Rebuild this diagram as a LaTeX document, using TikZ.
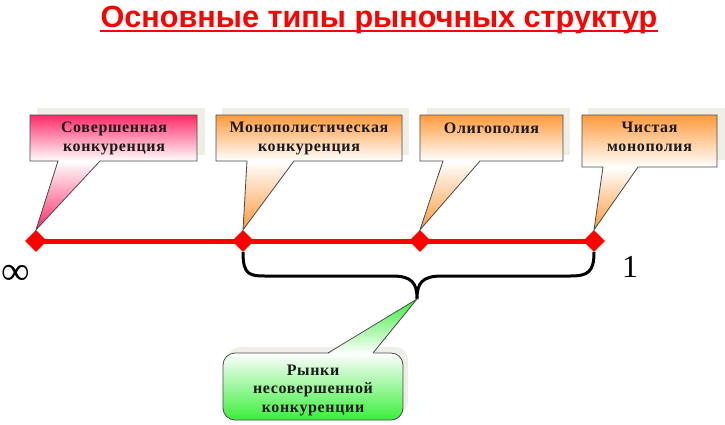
\documentclass[tikz,border=0pt]{standalone}
\usepackage{fontspec}
\setmainfont{Liberation Serif}
\newfontfamily\titlefont{Liberation Sans}
\newfontfamily\lblfont[LetterSpace=4]{Liberation Serif}
\usetikzlibrary{shapes.geometric,backgrounds}
\definecolor{pinkc}{HTML}{FF2A68}
\definecolor{orangec}{HTML}{FF9A3C}
\definecolor{greenc}{HTML}{3AEE3A}
\definecolor{shadowc}{HTML}{EFEFE8}
\definecolor{edgec}{HTML}{4A4A4A}
\definecolor{txtc}{HTML}{1A1A1A}
\begin{document}
\begin{tikzpicture}[x=1pt,y=-1pt,
  marker/.style={diamond,fill=red,minimum size=22pt,inner sep=0pt},
  outline/.style={draw=edgec,line width=0.8pt,line join=miter},
  shadowbox/.style={fill=shadowc},
  lbl/.style={font=\lblfont\fontsize{16}{18.5}\selectfont\bfseries,text=txtc,align=center,inner sep=0pt,anchor=base},
  bigsym/.style={font=\fontsize{32}{32}\selectfont,inner sep=0pt,anchor=base west}]
\useasboundingbox (0,0) rectangle (725,424);

% title
\node[font=\titlefont\fontsize{30.6}{30}\selectfont\bfseries,text=red,anchor=base,inner sep=0pt] (title) at (379,27) {Основные типы рыночных структур};
\draw[red,line width=2.5pt] ([yshift=-4pt]title.base west) -- ([yshift=-4pt]title.base east);

% markers
\node[marker] (d1) at (36,241) {};
\node[marker] (d2) at (243,241) {};
\node[marker] (d3) at (420,241) {};
\node[marker] (d4) at (594,241) {};
\begin{pgfonlayer}{background}
\draw[red,line width=5pt] (d1.center) -- (d4.center);
\end{pgfonlayer}

% callout 1
\fill[shadowbox] (37,108) rectangle (205,155);
\shade[top color=white,bottom color=pinkc] (58,161) -- (d1.north) -- (100,161) -- cycle;
\shade[top color=pinkc,bottom color=white] (30,115) rectangle (197,161);
\draw[outline] (58,161) -- (30,161) -- (30,115) -- (197,115) -- (197,161) -- (100,161) -- (d1.north) -- cycle;
\node[lbl] (t1) at (114,151) {Совершенная\\конкуренция};

% callout 2
\fill[shadowbox] (222,108) rectangle (409,155);
\shade[top color=white,bottom color=orangec] (247,161) -- (d2.north) -- (294,161) -- cycle;
\shade[top color=orangec,bottom color=white] (216,115) rectangle (402,161);
\draw[outline] (247,161) -- (216,161) -- (216,115) -- (402,115) -- (402,161) -- (294,161) -- (d2.north) -- cycle;
\node[lbl] (t2) at (309,151) {Монополистическая\\конкуренция};

% callout 3
\fill[shadowbox] (427,108) rectangle (570,155);
\shade[top color=white,bottom color=orangec] (443,161) -- (d3.north) -- (480,161) -- cycle;
\shade[top color=orangec,bottom color=white] (420,115) rectangle (563,161);
\draw[outline] (443,161) -- (420,161) -- (420,115) -- (563,115) -- (563,161) -- (480,161) -- (d3.north) -- cycle;
\node[lbl] (t3) at (491.5,133) {Олигополия};

% callout 4
\fill[shadowbox] (588,108) rectangle (725,160);
\shade[top color=white,bottom color=orangec] (603,167) -- (d4.north) -- (638,167) -- cycle;
\shade[top color=orangec,bottom color=white] (582,115) rectangle (717,167);
\draw[outline] (603,167) -- (582,167) -- (582,115) -- (717,115) -- (717,167) -- (638,167) -- (d4.north) -- cycle;
\node[lbl] (t4) at (649.5,151) {Чистая\\монополия};

% brace
\coordinate (bt) at (417,299);
\draw[line width=3pt] (d2.south) .. controls (243,276) and (250,276) .. (268,276) -- (392,276) .. controls (412,276) and (417,283) .. (bt) .. controls (417,283) and (422,276) .. (442,276) -- (570,276) .. controls (588,276) and (594,272) .. (d4.south);

% limits
\node[bigsym,font=\fontsize{40}{40}\selectfont] (inf) at (1,284) {∞};
\node[bigsym] (one) at (622,277) {1};

% green callout
\fill[shadowbox,rounded corners=12pt] (228,347) rectangle (408,414);
\shade[top color=white,bottom color=greenc,rounded corners=12pt] (223,353) rectangle (403,420);
\draw[outline,rounded corners=12pt] (223,353) rectangle (403,420);
\shade[top color=greenc,bottom color=white] (328,354) -- (bt) -- (373,354) -- cycle;
\draw[outline] (328,353) -- (bt) -- (373,353);
\node[lbl] (t5) at (313,412) {Рынки\\несовершенной\\конкуренции};
\end{tikzpicture}
\end{document}
